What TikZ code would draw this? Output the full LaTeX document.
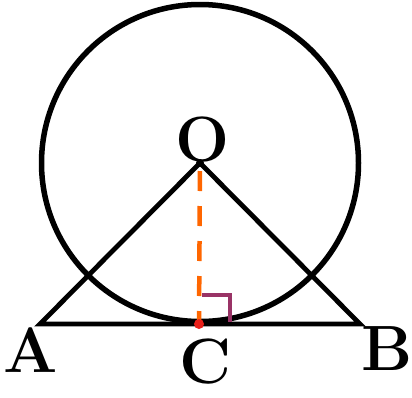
\documentclass[tikz,border=0pt]{standalone}
\usepackage{fontspec}
\definecolor{dashorange}{HTML}{FF6600}
\definecolor{anglepurple}{HTML}{993366}
\definecolor{dotred}{HTML}{E8201A}
\tikzset{
  lbl/.style={font=\rmfamily\bfseries\fontsize{64}{64}\selectfont, inner sep=0pt, anchor=base},
  thick line/.style={line width=4.8pt, black},
}
\begin{document}
\begin{tikzpicture}[x=1pt,y=-1pt]
\useasboundingbox (0,0) rectangle (412,397);
\coordinate (O) at (200,163);
\coordinate (A) at (40,324);
\coordinate (B) at (360,324);
\coordinate (C) at (199,324);
\coordinate (R1) at (202,295);
\coordinate (R2) at (230,295);
\coordinate (R3) at (230,322);
\draw[line width=5.5pt] (O) circle[radius=158.5];
\draw[thick line, line join=miter] (B) -- (O) -- (A) -- cycle;
\draw[dashorange, line width=4.5pt, dash pattern=on 20pt off 15pt, dash phase=-8pt] (O) -- (C);
\draw[anglepurple, line width=4pt] (R1) -- (R2) -- (R3);
\fill[dotred] (C) circle[radius=5];
\fill[black] (O) circle[radius=4];
\node[lbl] (lO) at (203,161) {O};
\node[lbl] (lA) at (31,372) {A};
\node[lbl] (lB) at (387,370) {B};
\node[lbl] (lC) at (206,383) {C};
\end{tikzpicture}
\end{document}
